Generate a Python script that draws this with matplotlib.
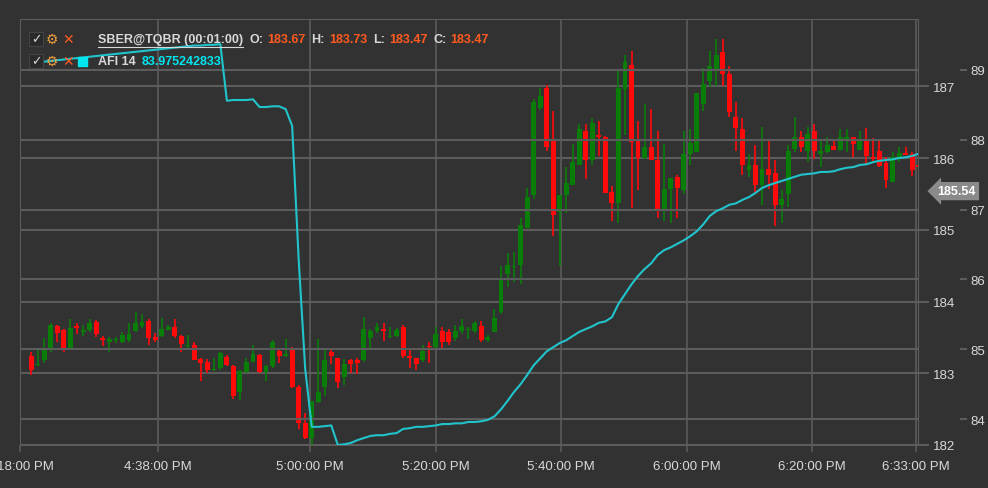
import matplotlib
matplotlib.use("Agg")
import matplotlib.pyplot as plt
import numpy as np

opens = [183.24,183.12,183.19,183.34,183.66,183.60,183.33,183.66,183.57,183.60,183.72,183.49,183.44,183.46,183.44,183.46,183.59,183.66,183.73,183.50,
183.52,183.61,183.65,183.52,183.38,183.40,183.20,183.16,183.05,183.07,183.23,183.10,182.74,183.02,183.16,183.26,183.02,183.10,183.31,183.24,
183.35,182.81,182.31,182.10,182.60,182.81,183.30,183.21,182.95,183.18,183.18,183.19,183.49,183.59,183.62,183.51,183.52,183.65,183.24,183.21,
183.19,183.38,183.36,183.59,183.58,183.49,183.59,183.60,183.59,183.66,183.46,183.58,183.86,184.38,184.48,184.51,185.03,185.48,186.70,186.98,
186.25,185.25,185.48,185.63,185.91,186.38,185.98,186.32,186.29,185.53,185.38,186.97,187.30,186.25,186.00,186.16,185.98,185.27,185.57,185.73,
185.55,186.06,186.09,186.75,187.07,187.22,187.48,187.18,186.58,186.41,185.84,185.91,185.63,185.85,185.79,185.34,185.50,186.13,186.29,186.10,
186.38,186.06,186.08,186.17,186.11,186.27,186.30,186.12,186.27,186.02,186.10,185.93,185.67,186.01,186.07,186.06,185.90]
closes = [183.04,183.13,183.35,183.67,183.56,183.33,183.63,183.63,183.61,183.70,183.55,183.46,183.48,183.47,183.53,183.55,183.70,183.72,183.49,183.47,
183.62,183.65,183.52,183.41,183.39,183.19,183.15,183.05,183.06,183.28,183.12,182.69,183.03,183.16,183.27,183.02,183.10,183.44,183.24,183.27,
182.81,182.31,182.10,182.61,182.74,183.19,183.24,182.88,183.13,183.13,183.14,183.62,183.59,183.64,183.59,183.52,183.60,183.24,183.21,183.13,
183.31,183.36,183.55,183.43,183.43,183.59,183.66,183.61,183.70,183.46,183.51,183.77,184.32,184.51,184.49,185.07,185.46,186.78,186.87,186.16,
185.21,185.48,185.65,185.95,186.41,185.98,186.49,186.29,185.51,185.38,186.98,187.34,186.22,186.00,186.16,185.98,185.27,185.57,185.72,185.58,
186.06,186.21,186.91,187.03,187.28,187.44,187.18,186.64,186.42,185.91,185.90,185.62,185.85,185.77,185.34,185.43,186.10,186.30,186.16,186.33,
186.10,186.10,186.19,186.11,186.30,186.30,186.20,186.27,186.03,185.99,185.89,185.70,186.01,186.07,186.05,185.84,185.88]
highs = [183.30,183.34,183.49,183.70,183.68,183.62,183.75,183.70,183.68,183.75,183.74,183.52,183.51,183.51,183.57,183.70,183.86,183.82,183.75,183.56,
183.77,183.68,183.75,183.53,183.54,183.44,183.22,183.20,183.21,183.29,183.25,183.12,183.04,183.22,183.40,183.27,183.12,183.46,183.33,183.48,
183.36,182.83,182.45,182.62,183.48,183.35,183.34,183.22,183.20,183.20,183.21,183.79,183.62,183.70,183.70,183.65,183.63,183.67,183.34,183.22,
183.40,183.43,183.64,183.64,183.62,183.68,183.75,183.65,183.73,183.73,183.53,183.90,184.49,184.68,184.69,185.17,185.59,186.83,186.98,187.02,
186.66,185.48,185.87,186.20,186.47,186.47,186.56,186.52,186.31,185.61,187.23,187.44,187.50,186.52,186.75,186.69,186.38,186.20,185.72,185.76,
186.38,186.40,186.91,187.25,187.50,187.66,187.66,187.29,186.78,186.56,186.06,186.18,186.43,186.27,185.98,185.56,186.18,186.57,186.38,186.44,
186.47,186.24,186.30,186.27,186.40,186.40,186.30,186.38,186.42,186.28,186.27,186.01,186.08,186.16,186.16,186.08,185.91]
lows = [182.98,183.10,183.15,183.30,183.43,183.29,183.33,183.55,183.52,183.58,183.50,183.38,183.29,183.42,183.42,183.43,183.58,183.63,183.39,183.43,
183.50,183.60,183.49,183.29,183.34,183.18,182.89,183.01,183.03,183.04,183.10,182.64,182.63,183.01,183.22,183.00,182.89,183.08,183.14,183.23,
182.80,182.22,182.08,182.00,182.58,182.69,183.13,182.80,182.84,183.01,182.99,183.16,183.34,183.56,183.45,183.49,183.50,183.22,183.08,183.05,
183.16,183.15,183.33,183.34,183.40,183.45,183.55,183.48,183.56,183.44,183.44,183.64,183.82,184.20,184.27,184.24,185.03,185.43,186.67,186.10,
184.91,184.50,185.24,185.63,185.91,185.71,185.91,186.03,185.51,185.13,185.10,186.32,185.31,185.56,185.99,185.98,185.16,185.13,185.10,185.17,
185.50,185.90,186.08,186.66,186.99,187.01,187.01,186.58,186.10,185.76,185.73,185.53,185.34,185.57,185.06,185.09,185.32,186.09,186.09,185.94,
185.99,185.88,186.07,186.11,186.10,186.09,186.02,186.12,185.91,185.96,185.88,185.58,185.67,185.95,186.05,185.75,185.88]
afi = [89.10,89.11,89.12,89.13,89.14,89.15,89.16,89.17,89.18,89.19,89.20,89.21,89.22,89.23,89.24,89.25,89.26,89.27,89.28,89.29,
89.30,89.31,89.32,89.33,89.34,89.35,89.35,89.36,89.36,89.37,88.56,88.57,88.57,88.57,88.58,88.47,88.47,88.48,88.48,88.44,
88.20,86.29,84.72,83.89,83.89,83.90,83.91,83.63,83.64,83.66,83.70,83.73,83.76,83.77,83.77,83.79,83.80,83.86,83.87,83.89,
83.89,83.90,83.91,83.93,83.93,83.94,83.94,83.96,83.96,83.97,83.99,84.04,84.14,84.26,84.39,84.50,84.63,84.77,84.87,84.97,
85.03,85.09,85.13,85.19,85.25,85.29,85.33,85.38,85.40,85.46,85.65,85.79,85.93,86.05,86.15,86.23,86.35,86.42,86.46,86.51,
86.56,86.62,86.69,86.79,86.91,86.98,87.02,87.07,87.09,87.14,87.18,87.24,87.31,87.35,87.38,87.41,87.44,87.47,87.50,87.51,
87.52,87.54,87.54,87.55,87.58,87.60,87.61,87.64,87.65,87.68,87.70,87.71,87.72,87.74,87.75,87.77,87.80]
time_labels = ["4:18:00 PM","4:38:00 PM","5:00:00 PM","5:20:00 PM","5:40:00 PM","6:00:00 PM","6:20:00 PM","6:33:00 PM"]
time_pos = [-1.7,19.5,42.7,62.0,81.2,100.5,119.7,135.6]
price_ticks = [182,183,184,185,186,187]
afi_ticks = [84,85,86,87,88,89]
last_price = 185.54
ohlc_labels = ["O:", "H:", "L:", "C:"]
ohlc_values = ["183.67", "183.73", "183.47", "183.47"]

plt.rcParams['font.family'] = ['Liberation Sans', 'DejaVu Sans']
BG = "#323232"; GRID = "#5c5c5c"; TXT = "#d8d8d8"
GREEN = "#087d08"; RED = "#ff0a0a"; CYAN = "#22c4cc"

fig = plt.figure(figsize=(9.88, 4.89), dpi=100, facecolor=BG)
ax = fig.add_axes([20/988, 1-446/489, 898/988, 426/489])
ax.set_facecolor(BG)
ax2 = ax.twinx()

x = np.arange(len(opens))
o = np.array(opens); c = np.array(closes)
cols = [GREEN if cc >= oo else RED for oo, cc in zip(o, c)]
ax.vlines(x, lows, highs, colors=cols, linewidth=1.2, zorder=3)
bot = np.minimum(o, c); hgt = np.maximum(np.abs(c - o), 0.012)
ax.bar(x, hgt, bottom=bot, width=0.75, color=cols, zorder=4)

ax2.plot(np.arange(len(afi)), afi, color=CYAN, lw=1.5, zorder=5)

ax.set_xlim(-0.15, 135.9)
ax.set_ylim(182.0, 187.94)
ax2.set_ylim(83.63, 89.73)

ax.set_xticks(time_pos); ax.set_xticklabels(time_labels)
ax.set_yticks(price_ticks)
ax2.set_yticks(afi_ticks)
for v in price_ticks:
    ax.axhline(v, color=GRID, lw=1.5, zorder=1)
for v in afi_ticks:
    ax2.axhline(v, color=GRID, lw=1.5, zorder=0)
for v in time_pos[1:]:
    ax.axvline(v, color=GRID, lw=1.2, zorder=1)
ax2.set_zorder(ax.get_zorder() + 1); ax2.patch.set_visible(False)

ax.yaxis.tick_right()
ax.tick_params(axis='y', colors=GRID, labelcolor=TXT, length=8, width=1.5, pad=3, labelsize=9.5)
ax.tick_params(axis='x', colors=GRID, labelcolor=TXT, length=5, width=1.2, pad=6, labelsize=9.5)
ax2.spines['right'].set_position(('outward', 30))
ax2.tick_params(axis='y', colors=GRID, labelcolor=TXT, length=5, width=1.5, pad=3, labelsize=9.5)
for a in (ax, ax2):
    for s in a.spines.values():
        s.set_visible(False)
for k in ('left', 'right', 'top', 'bottom'):
    ax.spines[k].set_visible(True); ax.spines[k].set_color(GRID)

ax.annotate(f"{last_price:.2f}", xy=(1.0, last_price), xycoords=('axes fraction', 'data'),
            xytext=(14, 0), textcoords='offset points', va='center', ha='left',
            color='white', fontsize=9, fontweight='bold',
            bbox=dict(boxstyle='larrow,pad=0.25', fc='#8a8a8a', ec='none'), annotation_clip=False)

def ft(px, py, s, **kw):
    return fig.text(px/988, 1-py/489, s, va='center', zorder=10, **kw)

def after(prev, s, gap=4, **kw):
    a = matplotlib.text.Annotation(s, xy=(1, 0.5), xycoords=prev, xytext=(gap, 0),
                                   textcoords='offset pixels', va='center', ha='left', **kw)
    a.set_zorder(10)
    return fig.add_artist(a)

ORG = "#ff5a1f"
for row in (40, 62):
    r = plt.Rectangle((29/988, 1-(row+7)/489), 14/988, 14/489, fc="#2a2a2a", ec="#444444", lw=0.8,
                      transform=fig.transFigure, zorder=9)
    fig.add_artist(r)
    ft(31, row, "✓", color=TXT, fontsize=9, family='DejaVu Sans')
    ft(46, row, "⚙", color="#f0a040", fontsize=10, family='DejaVu Sans')
    ft(62, row, "✕", color=ORG, fontsize=10, family='DejaVu Sans')
t = ft(98, 40, "SBER@TQBR (00:01:00)", color=TXT, fontsize=9, fontweight='bold')
fig.canvas.draw()
bb = t.get_window_extent()
fig.add_artist(plt.Line2D([bb.x0/988, bb.x1/988], [1-48/489, 1-48/489], color=TXT, lw=0.8, zorder=10))
prev = t
for lab, val in zip(ohlc_labels, ohlc_values):
    prev = after(prev, lab, gap=6, color=TXT, fontsize=9, fontweight='bold')
    prev = after(prev, val, gap=4, color=ORG, fontsize=9, fontweight='bold')
fig.add_artist(plt.Rectangle((78/988, 1-67/489), 9/988, 9/489, color="#00e5ee", transform=fig.transFigure, zorder=10))
t2 = ft(98, 62, "AFI 14", color=TXT, fontsize=9, fontweight='bold')
after(t2, "83.975242833", gap=6, color="#00e5ee", fontsize=9, fontweight='bold')

fig.savefig("out.png", dpi=100, facecolor=BG)
